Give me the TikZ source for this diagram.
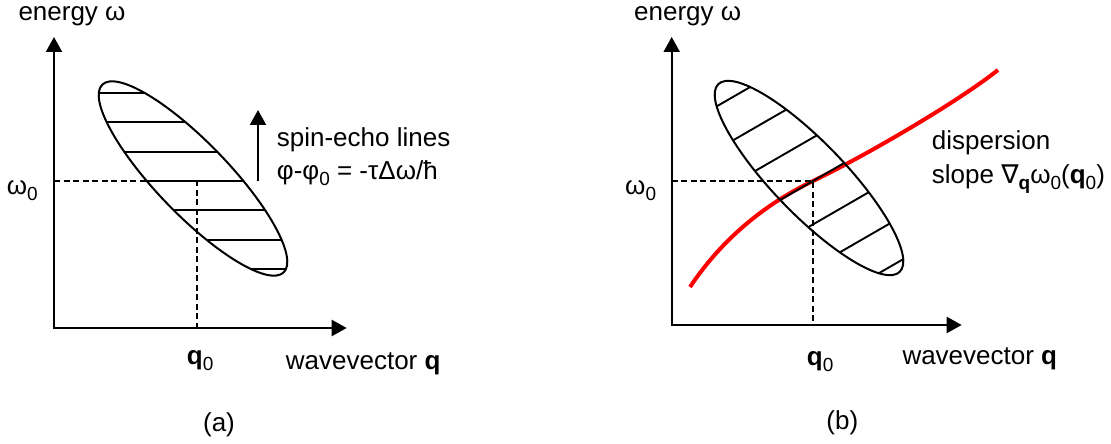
\documentclass[tikz,border=0pt]{standalone}
\usepackage{fontspec}
\setmainfont{Liberation Sans}
\newfontfamily\djv{DejaVu Sans}
\usetikzlibrary{arrows.meta}
\newcommand\mysub[1]{\raisebox{-6pt}{\fontsize{19}{19}\selectfont #1}}
\begin{document}
\begin{tikzpicture}[x=1pt,y=1pt,
 lbl/.style={font=\fontsize{26}{33}\selectfont, inner sep=0pt, anchor=base west},
 axis/.style={line width=2.2pt, {Triangle[length=15pt,width=16pt]}-{Triangle[length=15pt,width=16pt]}},
 uparrow/.style={line width=2.2pt, -{Triangle[length=15pt,width=16pt]}},
 guide/.style={line width=2pt, dash pattern=on 6pt off 3.5pt},
 ell/.style={line width=2pt},
 hatch/.style={line width=1.9pt},
 disp/.style={line width=4pt, red, line cap=butt}]
\useasboundingbox (0,0) rectangle (1111,444);
% ---------------- panel (a)
\coordinate (Oa) at (54,116);
\coordinate (Ya) at (54,407);
\coordinate (Xa) at (346.7,116);
\coordinate (Pa) at (197,263);
\coordinate (Ca) at (193,265.5);
\draw[axis] (Ya) -- (Oa) -- (Xa);
\draw[guide] (Oa |- Pa) -- (Pa) -- (Pa |- Oa);
\begin{scope}
  \clip[rotate around={-46:(Ca)}] (Ca) ellipse [x radius=130.5pt, y radius=36pt];
  \foreach \k in {-3,...,3}
    \draw[hatch] ([shift={(-200,{29.3*\k})}]Pa) -- ++(400,0);
\end{scope}
\draw[ell, rotate around={-46:(Ca)}] (Ca) ellipse [x radius=130.5pt, y radius=36pt];
\coordinate (Sa0) at (258,263);
\coordinate (Sa1) at (258,334);
\draw[uparrow] (Sa0) -- (Sa1);
\node[lbl] (ea) at (18.3,423.5) {energy ω};
\node[lbl] (wa) at (6.7,249) {ω\mysub{0}};
\node[lbl] (qa) at (186.7,79) {\textbf{q}\mysub{0}};
\node[lbl] (xa) at (285.7,74) {wavevector \textbf{q}};
\node[lbl, anchor=base] (la) at (219,12.3) {(a)};
\node[lbl] (s1) at (276.7,297.3) {spin-echo lines};
\node[lbl] (s2) at (276.7,264) {φ-φ\mysub{0} = -τΔω/ħ};
% ---------------- panel (b)
\coordinate (Ob) at (671.7,119);
\coordinate (Yb) at (671.7,407);
\coordinate (Xb) at (961.7,119);
\coordinate (Pb) at (813,263);
\coordinate (Cb) at (809,266);
\coordinate (D0) at (690,157);
\coordinate (D1) at (998,374);
\draw[disp] (D0) .. controls (722,205) and (765,240) .. (Pb)
                 .. controls (861,286) and (955,340) .. (D1);
\draw[axis] (Yb) -- (Ob) -- (Xb);
\draw[guide] (Ob |- Pb) -- (Pb) -- (Pb |- Ob);
\begin{scope}
  \clip[rotate around={-46:(Cb)}] (Cb) ellipse [x radius=130.5pt, y radius=36pt];
  \foreach \k in {-3,...,3}
    \draw[hatch] ([shift={({-18.8*\k-173.2},{32.56*\k-100})}]Pb) -- ++(346.4,200);
\end{scope}
\draw[ell, rotate around={-46:(Cb)}] (Cb) ellipse [x radius=130.5pt, y radius=36pt];
\node[lbl] (eb) at (634,423.5) {energy ω};
\node[lbl] (wb) at (625,249) {ω\mysub{0}};
\node[lbl] (qb) at (806.7,78) {\textbf{q}\mysub{0}};
\node[lbl] (xb) at (902.3,79.7) {wavevector \textbf{q}};
\node[lbl, anchor=base] (lb) at (842.3,14) {(b)};
\node[lbl] (d1) at (931.7,294) {dispersion};
\node[lbl] (d2) at (931.7,260.7) {slope {\djv ∇}\mysub{\textbf{q}}ω\mysub{0}(\textbf{q}\mysub{0})};
\end{tikzpicture}
\end{document}
